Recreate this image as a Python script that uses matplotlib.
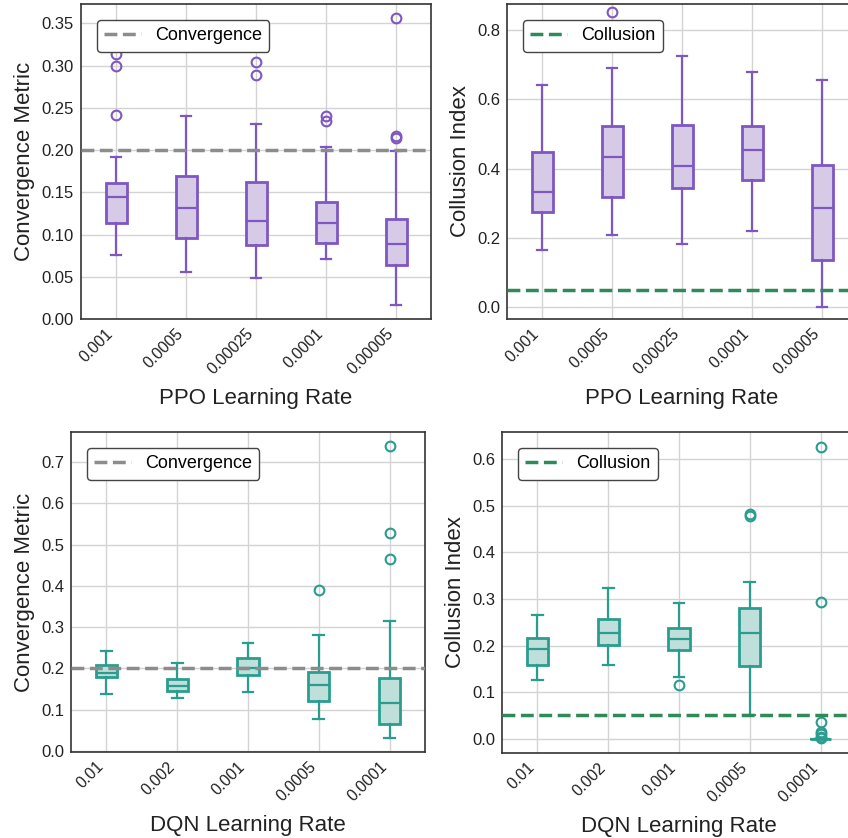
import matplotlib
matplotlib.use("Agg")
import matplotlib.pyplot as plt
from matplotlib.lines import Line2D

plt.rcParams['font.family'] = ['Liberation Sans', 'DejaVu Sans']

# ---- PPO sweep -------------------------------------------------------------
ppo_rates = ["0.001", "0.0005", "0.00025", "0.0001", "0.00005"]

ppo_conv_q1 = [0.114, 0.096, 0.088, 0.090, 0.064]
ppo_conv_med = [0.145, 0.131, 0.116, 0.114, 0.089]
ppo_conv_q3 = [0.161, 0.169, 0.162, 0.139, 0.119]
ppo_conv_lo = [0.076, 0.056, 0.048, 0.071, 0.017]
ppo_conv_hi = [0.192, 0.240, 0.231, 0.204, 0.199]
ppo_conv_out = [[0.314, 0.300, 0.242], [], [0.304, 0.289],
                [0.240, 0.235], [0.356, 0.217, 0.214]]

ppo_coll_q1 = [0.274, 0.318, 0.345, 0.368, 0.135]
ppo_coll_med = [0.333, 0.433, 0.407, 0.455, 0.287]
ppo_coll_q3 = [0.448, 0.523, 0.526, 0.522, 0.410]
ppo_coll_lo = [0.165, 0.208, 0.181, 0.220, 0.000]
ppo_coll_hi = [0.640, 0.690, 0.725, 0.679, 0.656]
ppo_coll_out = [[], [0.851], [], [], []]

# ---- DQN sweep -------------------------------------------------------------
dqn_rates = ["0.01", "0.002", "0.001", "0.0005", "0.0001"]

dqn_conv_q1 = [0.178, 0.146, 0.184, 0.120, 0.066]
dqn_conv_med = [0.188, 0.158, 0.201, 0.159, 0.115]
dqn_conv_q3 = [0.208, 0.175, 0.226, 0.190, 0.176]
dqn_conv_lo = [0.137, 0.127, 0.143, 0.077, 0.030]
dqn_conv_hi = [0.243, 0.213, 0.261, 0.281, 0.314]
dqn_conv_out = [[], [], [], [0.391], [0.738, 0.529, 0.466]]

dqn_coll_q1 = [0.159, 0.201, 0.191, 0.155, 0.000]
dqn_coll_med = [0.193, 0.228, 0.215, 0.227, 0.000]
dqn_coll_q3 = [0.216, 0.256, 0.237, 0.280, 0.000]
dqn_coll_lo = [0.126, 0.158, 0.132, 0.051, 0.000]
dqn_coll_hi = [0.266, 0.323, 0.291, 0.337, 0.000]
dqn_coll_out = [[], [], [0.115], [0.482, 0.479],
                [0.627, 0.294, 0.036, 0.015, 0.009, 0.004, 0.001]]

CONVERGENCE_LEVEL = 0.2
COLLUSION_LEVEL = 0.05

PURPLE = "#7E57C2"
PURPLE_FILL = "#D7CAE6"
TEAL = "#2A9D8F"
TEAL_FILL = "#BFDFDB"
GRAY_REF = "#8C8C8C"
GREEN_REF = "#2E8B57"

W, H = 848, 838
fig = plt.figure(figsize=(W / 100, H / 100), dpi=100)


def px_axes(left, top, width, bottom):
    return fig.add_axes([left / W, (H - bottom) / H, width / W, (bottom - top) / H])


def draw_panel(ax, labels, q1, med, q3, lo, hi, out, edge, fill,
               ref, ref_color, ref_label, ylim, xlabel, ylabel):
    stats = []
    for i, lab in enumerate(labels):
        stats.append(dict(label=lab, q1=q1[i], med=med[i], q3=q3[i],
                          whislo=lo[i], whishi=hi[i], fliers=out[i]))
    ax.bxp(stats, widths=0.3, patch_artist=True,
           boxprops=dict(facecolor=fill, edgecolor=edge, linewidth=2.0),
           medianprops=dict(color=edge, linewidth=1.6),
           whiskerprops=dict(color=edge, linewidth=1.6),
           capprops=dict(color=edge, linewidth=1.6),
           flierprops=dict(marker='o', markerfacecolor='none',
                           markeredgecolor=edge, markersize=7,
                           markeredgewidth=1.5),
           zorder=3)
    ax.axhline(ref, color=ref_color, linestyle='--', linewidth=2.5, zorder=4)
    ax.set_ylim(*ylim)
    ax.set_xlim(0.5, len(labels) + 0.5)
    ax.grid(True, color='#D3D3D3', linewidth=1.0, zorder=0)
    ax.set_axisbelow(True)
    for s in ax.spines.values():
        s.set_color('#333333')
        s.set_linewidth(1.2)
    ax.tick_params(axis='both', length=0, pad=5, labelsize=12, colors='#222222')
    ax.tick_params(axis='x', labelsize=11.5)
    ax.set_xticks(range(1, len(labels) + 1))
    ax.set_xticklabels(labels, rotation=45, ha='right', rotation_mode='default')
    ax.set_xlabel(xlabel, fontsize=16, color='#222222', labelpad=8)
    ax.set_ylabel(ylabel, fontsize=16, color='#222222', labelpad=4.5)
    handle = Line2D([0], [0], color=ref_color, linestyle='--', linewidth=2.5)
    leg = ax.legend([handle], [ref_label], loc='upper left', fontsize=13,
                    frameon=True, fancybox=True, framealpha=1.0,
                    edgecolor='#444444', borderaxespad=0.9)
    leg.get_frame().set_linewidth(1.0)
    leg.set_zorder(10)


ax1 = px_axes(81, 4, 350, 319)
draw_panel(ax1, ppo_rates, ppo_conv_q1, ppo_conv_med, ppo_conv_q3,
           ppo_conv_lo, ppo_conv_hi, ppo_conv_out, PURPLE, PURPLE_FILL,
           CONVERGENCE_LEVEL, GRAY_REF, "Convergence", (0.0, 0.373),
           "PPO Learning Rate", "Convergence Metric")

ax2 = px_axes(507, 4, 350, 319)
draw_panel(ax2, ppo_rates, ppo_coll_q1, ppo_coll_med, ppo_coll_q3,
           ppo_coll_lo, ppo_coll_hi, ppo_coll_out, PURPLE, PURPLE_FILL,
           COLLUSION_LEVEL, GREEN_REF, "Collusion", (-0.034, 0.875),
           "PPO Learning Rate", "Collusion Index")

ax3 = px_axes(71, 432, 354, 752)
draw_panel(ax3, dqn_rates, dqn_conv_q1, dqn_conv_med, dqn_conv_q3,
           dqn_conv_lo, dqn_conv_hi, dqn_conv_out, TEAL, TEAL_FILL,
           CONVERGENCE_LEVEL, GRAY_REF, "Convergence", (-0.003, 0.773),
           "DQN Learning Rate", "Convergence Metric")

ax4 = px_axes(502, 432, 354, 753)
draw_panel(ax4, dqn_rates, dqn_coll_q1, dqn_coll_med, dqn_coll_q3,
           dqn_coll_lo, dqn_coll_hi, dqn_coll_out, TEAL, TEAL_FILL,
           COLLUSION_LEVEL, GREEN_REF, "Collusion", (-0.031, 0.659),
           "DQN Learning Rate", "Collusion Index")

fig.savefig("out.png", dpi=100, facecolor='white')
